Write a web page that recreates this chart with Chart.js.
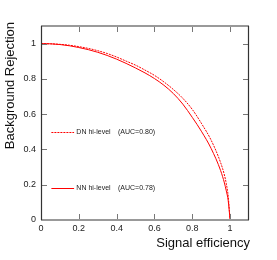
<!DOCTYPE html>
<html>
<head>
<meta charset="utf-8">
<script src="https://cdn.jsdelivr.net/npm/chart.js@4/dist/chart.umd.min.js"></script>
<style>
  html, body { margin: 0; padding: 0; background: #fff; }
  canvas { display: block; }
</style>
</head>
<body>
<canvas id="roc" width="277" height="260"></canvas>
<script>
// ROC curves: background rejection vs signal efficiency
const sigEff = [0, 0.05, 0.1, 0.15, 0.2, 0.25, 0.3, 0.35, 0.4, 0.45, 0.5, 0.55, 0.6,
                0.65, 0.7, 0.75, 0.8, 0.85, 0.9, 0.95, 0.97, 0.98, 0.99, 1.0];
const rejDN  = [1.0, 0.999, 0.996, 0.991, 0.983, 0.973, 0.960, 0.944, 0.924, 0.901, 0.878, 0.850, 0.820,
                0.783, 0.740, 0.690, 0.627, 0.545, 0.452, 0.325, 0.255, 0.205, 0.135, 0.0];
const rejNN  = [1.0, 0.999, 0.995, 0.988, 0.978, 0.966, 0.951, 0.933, 0.912, 0.888, 0.862, 0.834, 0.802,
                0.764, 0.717, 0.657, 0.582, 0.500, 0.405, 0.280, 0.210, 0.165, 0.110, 0.0];
const seriesNames = ['DN hi-level', 'NN hi-level'];
const aucValues   = ['0.80', '0.78'];
const legendRej   = [0.5, 0.18];      // legend rows, in y-axis units
const xTicks = [0, 0.2, 0.4, 0.6, 0.8, 1];
const yTicks = [0, 0.2, 0.4, 0.6, 0.8, 1];
const xTitle = 'Signal efficiency';
const yTitle = 'Background Rejection';

const FONT = '"Liberation Sans", Arial, Helvetica, sans-serif';
const RED = '#ff0000';
const DASH = [2, 1];

const toPts = (ys) => sigEff.map((x, i) => ({ x, y: ys[i] }));

// frame, inward tick marks, axis titles, legend (ROOT-like look)
const rootStyle = {
  id: 'rootStyle',
  afterDraw(chart) {
    const { ctx, chartArea: a, scales } = chart;
    const xs = scales.x, ys = scales.y;
    ctx.save();

    // tick marks pointing into the frame, on all four sides
    ctx.strokeStyle = '#777';
    ctx.lineWidth = 1;
    ctx.beginPath();
    xTicks.forEach(v => {
      const px = Math.round(xs.getPixelForValue(v)) + 0.5;
      ctx.moveTo(px, a.bottom); ctx.lineTo(px, a.bottom - 6);
      ctx.moveTo(px, a.top); ctx.lineTo(px, a.top + 6);
    });
    yTicks.forEach(v => {
      const py = Math.round(ys.getPixelForValue(v)) + 0.5;
      ctx.moveTo(a.left, py); ctx.lineTo(a.left + 6, py);
      ctx.moveTo(a.right, py); ctx.lineTo(a.right - 6, py);
    });
    ctx.stroke();

    // frame
    ctx.strokeStyle = '#999';
    ctx.lineWidth = 2;
    ctx.beginPath();
    ctx.moveTo(a.left, a.top); ctx.lineTo(a.right, a.top);
    ctx.moveTo(a.left, a.bottom); ctx.lineTo(a.right, a.bottom);
    ctx.stroke();
    ctx.strokeStyle = '#333';
    ctx.lineWidth = 1.2;
    ctx.beginPath();
    ctx.moveTo(a.left + 0.5, a.top); ctx.lineTo(a.left + 0.5, a.bottom);
    ctx.moveTo(a.right - 0.5, a.top); ctx.lineTo(a.right - 0.5, a.bottom);
    ctx.stroke();

    // axis titles, right-aligned like ROOT
    ctx.fillStyle = '#111';
    ctx.font = '13px ' + FONT;
    ctx.textAlign = 'right';
    ctx.textBaseline = 'alphabetic';
    ctx.fillText(xTitle, a.right + 1, 247);
    ctx.translate(14, a.top - 4);
    ctx.rotate(-Math.PI / 2);
    ctx.fillText(yTitle, 0, 0);
    ctx.setTransform(1, 0, 0, 1, 0, 0);

    // legend inside the frame
    ctx.font = '7px ' + FONT;
    ctx.textAlign = 'left';
    ctx.textBaseline = 'middle';
    chart.data.datasets.forEach((ds, i) => {
      const py = Math.round(ys.getPixelForValue(legendRej[i])) + 0.5;
      const x0 = xs.getPixelForValue(0.055), x1 = xs.getPixelForValue(0.175);
      ctx.strokeStyle = RED;
      ctx.lineWidth = 1;
      ctx.setLineDash(ds.borderDash || []);
      ctx.beginPath();
      ctx.moveTo(x0, py); ctx.lineTo(x1, py);
      ctx.stroke();
      ctx.setLineDash([]);
      ctx.fillStyle = '#222';
      ctx.fillText(seriesNames[i], xs.getPixelForValue(0.187), py);
      ctx.fillText('(AUC=' + aucValues[i] + ')', xs.getPixelForValue(0.407), py);
    });
    ctx.restore();
  },
};

const tickFmt = (v) => String(v);

new Chart(document.getElementById('roc'), {
  type: 'line',
  data: {
    datasets: [
      { label: seriesNames[0], data: toPts(rejDN), borderColor: RED, borderWidth: 1,
        borderDash: DASH, pointRadius: 0, cubicInterpolationMode: 'monotone', fill: false },
      { label: seriesNames[1], data: toPts(rejNN), borderColor: RED, borderWidth: 1,
        pointRadius: 0, cubicInterpolationMode: 'monotone', fill: false },
    ],
  },
  options: {
    animation: false,
    responsive: false,
    layout: { padding: { top: 26, right: 28, left: 0, bottom: 0 } },
    scales: {
      x: {
        type: 'linear', min: 0, max: 1.1,
        afterBuildTicks: (s) => { s.ticks = xTicks.map(v => ({ value: v })); },
        afterFit: (s) => { s.height = 40; },
        grid: { display: false, drawTicks: false },
        border: { display: false },
        ticks: { padding: 3, color: '#222', font: { family: FONT, size: 9 }, maxRotation: 0,
                 callback: tickFmt },
      },
      y: {
        type: 'linear', min: 0, max: 1.1,
        afterBuildTicks: (s) => { s.ticks = yTicks.map(v => ({ value: v })); },
        afterFit: (s) => { s.width = 41; },
        grid: { display: false, drawTicks: false },
        border: { display: false },
        ticks: { padding: 5, color: '#222', font: { family: FONT, size: 9 }, callback: tickFmt },
      },
    },
    plugins: { legend: { display: false }, tooltip: { enabled: false } },
  },
  plugins: [rootStyle],
});
</script>
</body>
</html>
